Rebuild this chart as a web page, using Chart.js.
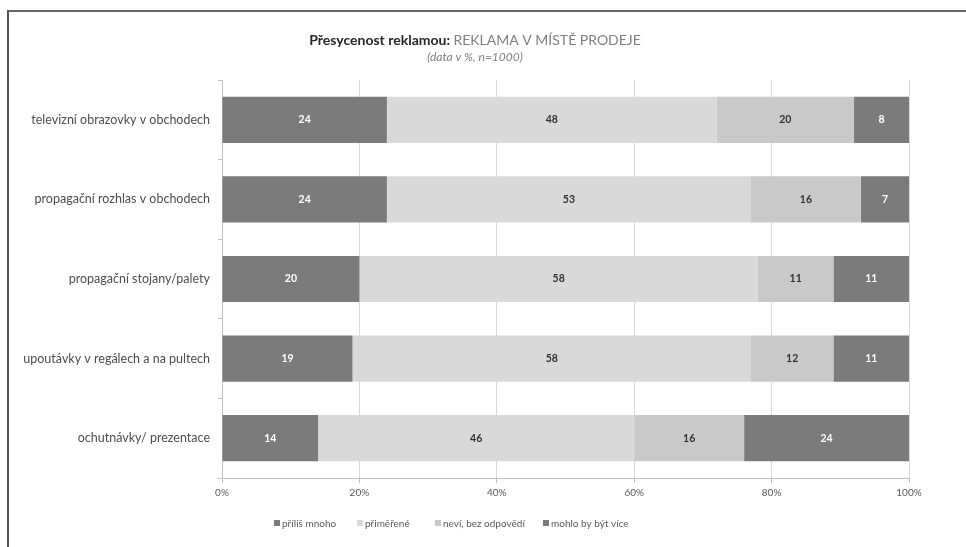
<!DOCTYPE html>
<html>
<head>
<meta charset="utf-8">
<script src="https://cdn.jsdelivr.net/npm/chart.js@4/dist/chart.umd.min.js"></script>
<style>
  html, body { margin: 0; padding: 0; background: #fff; }
  #wrap { position: relative; width: 966px; height: 547px; overflow: hidden; }
  #frame { position: absolute; left: 7px; top: 10px; width: 980px; height: 560px;
           border-left: 2px solid #555; border-top: 2px solid #666; box-sizing: border-box; }
  canvas { position: absolute; left: 0; top: 0; }
</style>
</head>
<body>
<div id="wrap">
  <div id="frame"></div>
  <canvas id="c" width="966" height="547"></canvas>
</div>
<script>
const categories = [
  'televizní obrazovky v obchodech',
  'propagační rozhlas v obchodech',
  'propagační stojany/palety',
  'upoutávky v regálech a na pultech',
  'ochutnávky/ prezentace'
];
const seriesNames = ['příliš mnoho', 'přiměřené', 'neví, bez odpovědí', 'mohlo by být více'];
const tooMuch   = [24, 24, 20, 19, 14];
const adequate  = [48, 53, 58, 58, 46];
const dontKnow  = [20, 16, 11, 12, 16];
const couldMore = [8, 7, 11, 11, 24];
const xTicks = ['0%', '20%', '40%', '60%', '80%', '100%'];

const fills = ['#7b7b7b', '#d9d9d9', '#c9c9c9', '#7b7b7b'];
const labelColors = ['#ffffff', '#333333', '#333333', '#ffffff'];
const FONT = 'Lato, "Open Sans", sans-serif';

// Title, value labels and legend are painted on top of the chart
const decorations = {
  id: 'decorations',
  afterDatasetsDraw(chart) {
    const ctx = chart.ctx;
    ctx.save();
    ctx.textAlign = 'center';
    ctx.textBaseline = 'middle';
    ctx.font = 'bold 10.5px ' + FONT;
    chart.data.datasets.forEach((ds, i) => {
      const meta = chart.getDatasetMeta(i);
      meta.data.forEach((bar, j) => {
        const x = (bar.x + bar.base) / 2;
        ctx.fillStyle = labelColors[i];
        ctx.fillText(String(ds.data[j]), x, bar.y);
      });
    });
    ctx.restore();
  },
  afterDraw(chart) {
    const ctx = chart.ctx;
    ctx.save();
    // title: bold lead-in followed by a lighter subject
    const t1 = 'Přesycenost reklamou: ';
    const t2 = 'REKLAMA V MÍSTĚ PRODEJE';
    ctx.textBaseline = 'middle';
    ctx.font = 'bold 14px ' + FONT;
    const w1 = ctx.measureText(t1).width;
    ctx.font = '14px ' + FONT;
    const w2 = ctx.measureText(t2).width;
    let x0 = 475 - (w1 + w2) / 2;
    ctx.textAlign = 'left';
    ctx.font = 'bold 14px ' + FONT;
    ctx.fillStyle = '#262626';
    ctx.fillText(t1, x0, 40);
    ctx.font = '14px ' + FONT;
    ctx.fillStyle = '#7f7f7f';
    ctx.fillText(t2, x0 + w1, 40);
    ctx.font = 'italic 12px ' + FONT;
    ctx.textAlign = 'center';
    ctx.fillStyle = '#7f7f7f';
    ctx.fillText('(data v %, n=1000)', 475, 57);

    // legend
    ctx.font = '10px ' + FONT;
    ctx.textAlign = 'left';
    const itemX = [274, 357, 435, 543];
    chart.data.datasets.forEach((ds, i) => {
      const x = itemX[i];
      ctx.fillStyle = ds.backgroundColor;
      ctx.fillRect(x, 520, 6, 6);
      ctx.fillStyle = '#595959';
      ctx.fillText(ds.label, x + 8, 523.5);
    });
    ctx.restore();
  }
};

new Chart(document.getElementById('c'), {
  type: 'bar',
  data: {
    labels: categories,
    datasets: [tooMuch, adequate, dontKnow, couldMore].map((d, i) => ({
      label: seriesNames[i],
      data: d,
      backgroundColor: fills[i],
      borderWidth: 0,
      barPercentage: 0.58,
      categoryPercentage: 1.0
    }))
  },
  options: {
    indexAxis: 'y',
    responsive: false,
    animation: false,
    layout: { padding: { top: 80, bottom: 47, left: 0, right: 57 } },
    plugins: { legend: { display: false }, tooltip: { enabled: false }, title: { display: false } },
    scales: {
      x: {
        stacked: true,
        min: 0, max: 100,
        afterBuildTicks(scale) {
          scale.ticks = xTicks.map((_, i) => ({ value: i * 20 }));
        },
        afterFit(scale) { scale.height = 22; },
        ticks: {
          callback: (v, i) => xTicks[i],
          color: '#595959',
          font: { family: FONT, size: 10 },
          padding: 4,
          maxRotation: 0
        },
        grid: { color: '#d9d9d9', tickLength: 5, tickColor: '#bfbfbf' },
        border: { color: '#bfbfbf' }
      },
      y: {
        stacked: true,
        afterFit(scale) { scale.width = 222; },
        ticks: {
          color: '#4d4d4d',
          font: { family: FONT, size: 12.5 },
          padding: 8
        },
        grid: { drawOnChartArea: false, tickLength: 4, color: '#bfbfbf', offset: true },
        border: { color: '#bfbfbf' }
      }
    }
  },
  plugins: [decorations]
});
</script>
</body>
</html>
